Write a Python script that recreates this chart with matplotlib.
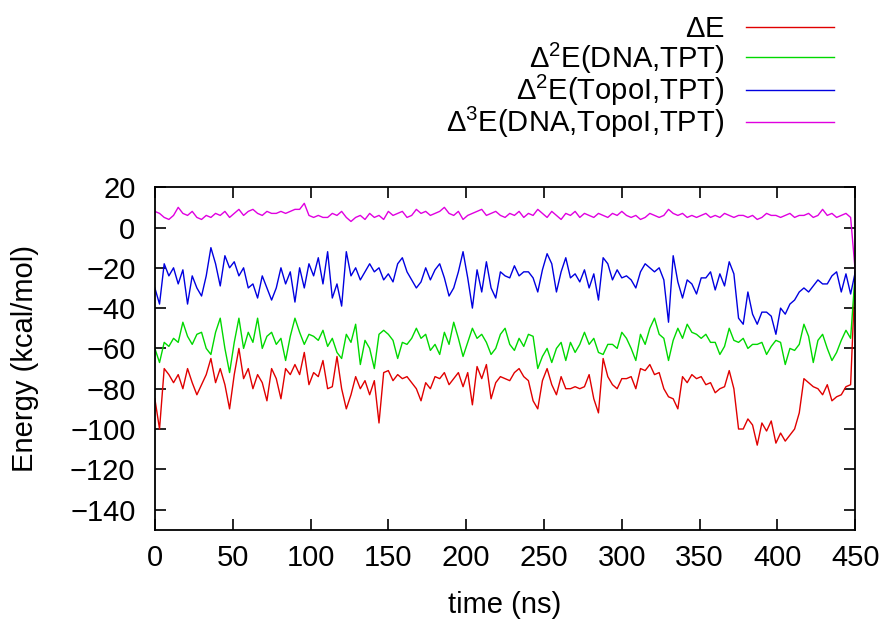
import numpy as np
import matplotlib
matplotlib.use("Agg")
import matplotlib.pyplot as plt

plt.rcParams['font.family'] = ['Liberation Sans', 'DejaVu Sans']
plt.rcParams['mathtext.fontset'] = 'custom'
plt.rcParams['mathtext.rm'] = 'Liberation Sans'
plt.rcParams['mathtext.it'] = 'Liberation Sans'

time_ns = np.arange(0, 451, 3)

dE = [-85, -100, -70, -73, -77, -73, -80, -70, -77, -83, -78, -73, -65, -77, -70, -78, -90, -73, -60, -75, -70, -80, -73, -77, -86, -70,
      -75, -85, -70, -73, -68, -73, -62, -78, -72, -74, -66, -80, -79, -64, -80, -90, -83, -74, -80, -76, -83, -76, -97, -72, -71,
      -76, -73, -75, -74, -77, -80, -86, -77, -80, -74, -75, -72, -78, -75, -72, -79, -72, -88, -69, -75, -68, -85, -77, -74, -75,
      -76, -72, -70, -74, -76, -86, -90, -76, -70, -78, -83, -74, -80, -80, -79, -80, -79, -73, -85, -92, -65, -74, -78, -80, -75,
      -75, -74, -80, -70, -71, -68, -73, -72, -80, -84, -85, -90, -74, -77, -73, -75, -74, -78, -77, -82, -80, -79, -71, -80, -100,
      -100, -95, -98, -108, -97, -101, -96, -107, -102, -106, -103, -100, -92, -75, -77, -79, -80, -83, -78, -86, -84, -83, -79, -78,
      -22]

d2E_dna = [-60, -67, -57, -59, -55, -57, -47, -54, -58, -53, -52, -60, -63, -52, -45, -60, -72, -57, -45, -60, -52, -57, -45, -60, -54, -52,
           -58, -55, -66, -54, -45, -52, -58, -53, -54, -56, -51, -59, -55, -62, -65, -53, -57, -48, -68, -56, -60, -70, -53, -51, -53,
           -56, -65, -57, -58, -55, -50, -55, -53, -61, -58, -63, -52, -58, -47, -55, -64, -57, -50, -55, -53, -57, -63, -60, -53, -50,
           -58, -61, -55, -59, -53, -54, -70, -64, -60, -67, -60, -57, -66, -57, -62, -58, -52, -58, -55, -62, -63, -58, -58, -60, -52,
           -55, -60, -66, -53, -58, -50, -45, -53, -55, -66, -56, -50, -55, -48, -52, -53, -55, -53, -57, -57, -63, -59, -50, -56, -57,
           -55, -60, -58, -58, -57, -63, -59, -56, -57, -68, -60, -61, -58, -48, -54, -67, -56, -53, -60, -66, -62, -56, -51, -55,
           -22]

d2E_topo = [-30, -38, -18, -24, -20, -28, -21, -38, -24, -30, -34, -24, -10, -18, -29, -14, -20, -17, -24, -20, -30, -28, -35, -24, -30, -36,
            -30, -20, -28, -22, -37, -20, -30, -18, -24, -15, -28, -12, -35, -28, -39, -12, -24, -20, -26, -22, -18, -22, -20, -26, -23,
            -27, -18, -15, -22, -26, -30, -27, -20, -26, -21, -18, -25, -34, -30, -22, -12, -25, -40, -21, -32, -17, -30, -35, -22, -24,
            -25, -19, -24, -22, -22, -25, -32, -21, -13, -18, -32, -22, -15, -25, -23, -27, -21, -30, -23, -36, -15, -18, -26, -21, -25,
            -24, -26, -30, -22, -18, -20, -22, -20, -26, -47, -14, -27, -35, -26, -28, -33, -25, -25, -22, -31, -23, -29, -17, -23, -45,
            -48, -32, -43, -48, -42, -42, -44, -53, -40, -43, -38, -36, -32, -30, -32, -29, -26, -28, -28, -24, -22, -32, -23, -33,
            -22]

d3E = [8, 7, 5, 4, 6, 10, 7, 6, 8, 5, 4, 6, 5, 7, 6, 8, 5, 7, 9, 6, 8, 9, 7, 6, 8, 7,
       7, 8, 7, 8, 9, 9, 12, 6, 5, 6, 5, 5, 7, 6, 8, 5, 3, 5, 6, 4, 7, 5, 6, 4, 8,
       6, 7, 8, 5, 6, 9, 7, 8, 6, 7, 8, 10, 7, 6, 8, 4, 6, 7, 8, 9, 6, 7, 8, 6, 5,
       7, 6, 8, 5, 7, 6, 9, 7, 5, 8, 6, 4, 7, 6, 8, 5, 7, 6, 5, 7, 6, 5, 7, 6, 8,
       6, 5, 6, 4, 5, 7, 6, 5, 6, 9, 7, 6, 7, 5, 6, 5, 6, 7, 5, 6, 5, 7, 6, 5, 6,
       6, 5, 6, 4, 5, 7, 6, 6, 5, 6, 7, 5, 6, 6, 7, 5, 6, 9, 6, 7, 5, 6, 7, 5,
       -22]

labels = [r'$\Delta$E', r'$\Delta^2$E(DNA,TPT)', r'$\Delta^2$E(TopoI,TPT)', r'$\Delta^3$E(DNA,TopoI,TPT)']
colors = ['#e00000', '#00d800', '#0000e0', '#e000e0']
series = [dE, d2E_dna, d2E_topo, d3E]

fig = plt.figure(figsize=(8.9, 6.24), dpi=100)
ax = fig.add_axes([0.174, 0.151, 0.787, 0.549])

for ys, c, lab in zip(series, colors, labels):
    ax.plot(time_ns, ys, color=c, lw=1.0, label=lab)

ax.set_xlim(0, 450)
ax.set_ylim(-150, 20)
ax.set_xticks(np.arange(0, 451, 50))
ax.set_yticks(np.arange(-140, 21, 20))
ax.set_yticklabels([str(v).replace('-', '\u2212') for v in range(-140, 21, 20)])
ax.tick_params(direction='in', length=8, width=1.2, top=True, right=True, labelsize=21)
ax.tick_params(axis='y', pad=14)
ax.tick_params(axis='x', pad=10)
for s in ax.spines.values():
    s.set_linewidth(1.3)
ax.set_xlabel('time (ns)', fontsize=21, labelpad=14)
ax.set_ylabel('Energy (kcal/mol)', fontsize=21, labelpad=22)

fig.legend(loc='upper right', bbox_to_anchor=(0.96, 1.008), frameon=False,
           markerfirst=False, fontsize=21, handlelength=3.0, labelspacing=-0.1,
           handletextpad=0.75, borderaxespad=0.3)

fig.savefig('out.png', dpi=100)
